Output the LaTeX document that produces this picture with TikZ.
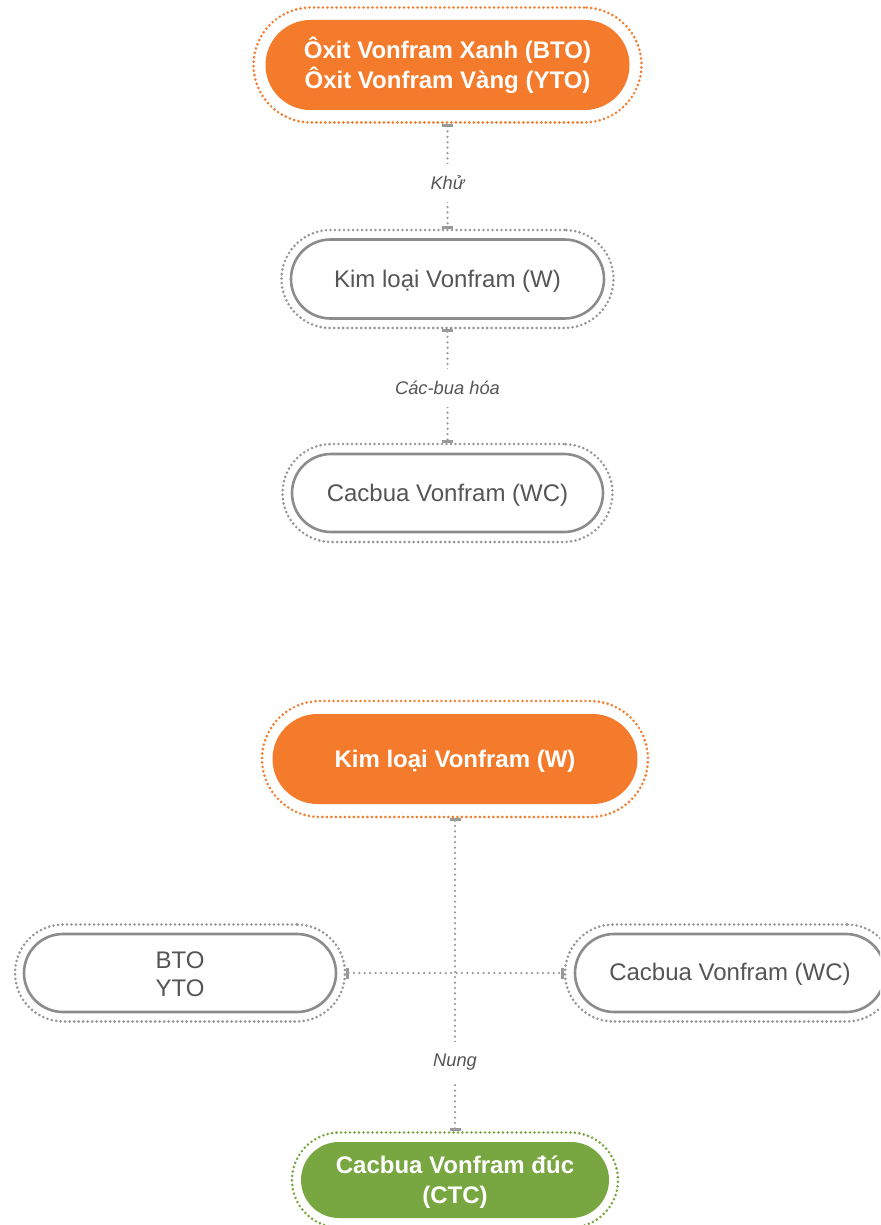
\documentclass[tikz,border=0pt]{standalone}
\usepackage{fontspec}
\setmainfont{Liberation Sans}
\usetikzlibrary{arrows.meta}
\definecolor{vorange}{HTML}{F47B2B}
\definecolor{vgreen}{HTML}{78A640}
\definecolor{ringgray}{HTML}{969696}
\definecolor{bordergray}{HTML}{8C8C8C}
\definecolor{txtgray}{HTML}{555555}
\definecolor{conngray}{HTML}{999999}
\definecolor{tickgray}{HTML}{999999}
\newcommand{\lowtext}[2]{\raisebox{-#1}[\height][\depth]{#2}}
\begin{document}
\begin{tikzpicture}[x=1pt,y=-1pt,
  ringnode/.style={draw=#1, line width=2.9pt, dash pattern=on 0pt off 4.5pt, line cap=round, inner sep=0pt},
  fillpill/.style={fill=#1, text=white, inner sep=0pt, align=center,
    font=\bfseries\fontsize{24}{30}\selectfont},
  whitepill/.style={fill=white, draw=bordergray, line width=2.6pt, text=txtgray, inner sep=0pt, align=center,
    font=\fontsize{24}{28.5}\selectfont},
  conn/.style={draw=conngray, line width=2.5pt, dash pattern=on 0pt off 5.4pt, line cap=round,
    {Bar[width=11pt,line width=2.8pt,color=tickgray]}-{Bar[width=11pt,line width=2.8pt,color=tickgray]}},
  lbl/.style={fill=white, text=txtgray, inner xsep=3pt, inner ysep=12pt,
    font=\itshape\fontsize{18.3}{21}\selectfont}
]
\useasboundingbox (0,0) rectangle (880,1225);
\clip (0,0) rectangle (880,1225);

% top chain
\node[ringnode=vorange, minimum width=388, minimum height=115, rounded corners=57.5] (r1) at (447.5,65) {};
\node[fillpill=vorange, minimum width=364, minimum height=90, rounded corners=45] (n1) at (447.5,65)
  {Ôxit Vonfram Xanh (BTO)\\Ôxit Vonfram Vàng (YTO)};

\node[ringnode=ringgray, minimum width=332, minimum height=98, rounded corners=49] (r2) at (447.5,279) {};
\node[whitepill, minimum width=313, minimum height=79, rounded corners=39.5] (n2) at (447.5,279)
  {\lowtext{2.5pt}{Kim loại Vonfram (W)}};

\node[ringnode=ringgray, minimum width=330, minimum height=98, rounded corners=49] (r3) at (447.5,493) {};
\node[whitepill, minimum width=311, minimum height=78, rounded corners=39] (n3) at (447.5,493)
  {\lowtext{2pt}{Cacbua Vonfram (WC)}};

\draw[conn] (r1) -- node[lbl, pos=0.56]{Khử} (r2);
\draw[conn] (r2) -- node[lbl, pos=0.52]{Các-bua hóa} (r3);

% bottom diagram
\node[ringnode=vorange, minimum width=386, minimum height=116, rounded corners=58] (r4) at (455,759) {};
\node[fillpill=vorange, minimum width=365, minimum height=90, rounded corners=45] (n4) at (455,759)
  {\lowtext{2pt}{Kim loại Vonfram (W)}};

\node[ringnode=ringgray, minimum width=330, minimum height=97, rounded corners=48.5] (r5) at (180,973) {};
\node[whitepill, minimum width=312, minimum height=78, rounded corners=39] (n5) at (180,973)
  {\rule{0pt}{19.5pt}BTO\\YTO};

\node[ringnode=ringgray, minimum width=330, minimum height=97, rounded corners=48.5] (r6) at (730,973) {};
\node[whitepill, minimum width=310, minimum height=78, rounded corners=39] (n6) at (730,973)
  {\lowtext{1.5pt}{Cacbua Vonfram (WC)}};

\node[ringnode=vgreen, minimum width=326, minimum height=95, rounded corners=47.5] (r7) at (455,1180) {};
\node[fillpill=vgreen, minimum width=308, minimum height=76, rounded corners=38] (n7) at (455,1180)
  {\rule{0pt}{21pt}Cacbua Vonfram đúc\\(CTC)};

\draw[conn] (r5) -- (r6);
\draw[conn] (r4) -- node[lbl, pos=0.78]{Nung} (r7);
\end{tikzpicture}
\end{document}
